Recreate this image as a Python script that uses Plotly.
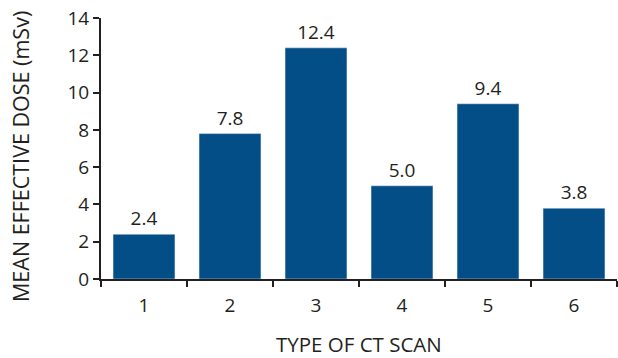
import plotly.graph_objects as go

categories = ["1", "2", "3", "4", "5", "6"]
doses = [2.4, 7.8, 12.4, 5.0, 9.4, 3.8]
dose_labels = ["2.4", "7.8", "12.4", "5.0", "9.4", "3.8"]
y_ticks = [0, 2, 4, 6, 8, 10, 12, 14]
x_title = "TYPE OF CT SCAN"
y_title = "MEAN EFFECTIVE DOSE (mSv)"

ink = "#231F20"
PW, PH = 516, 261
fig = go.Figure(go.Bar(
    x=categories, y=doses, text=dose_labels, textposition="outside",
    textfont=dict(size=19, color=ink), marker_color="#034E87",
    cliponaxis=False, hoverinfo="skip",
))
fig.update_layout(
    width=618, height=358,
    margin=dict(l=101, r=1, t=18, b=79, autoexpand=False),
    paper_bgcolor="white", plot_bgcolor="white",
    font=dict(family="Open Sans", size=19, color=ink),
    bargap=0.28, showlegend=False,
    annotations=[
        dict(text=x_title, xref="paper", yref="paper", x=0.5, y=-65 / PH,
             xanchor="center", yanchor="middle", showarrow=False,
             font=dict(size=20.5, color=ink)),
        dict(text=y_title, xref="paper", yref="paper", x=-81 / PW, y=122 / PH,
             xanchor="center", yanchor="middle", showarrow=False, textangle=-90,
             font=dict(size=21.5, color=ink)),
    ],
)
fig.update_xaxes(
    type="category", showline=True, linecolor=ink, linewidth=2, automargin=False,
    ticks="outside", tickson="boundaries", ticklen=6, tickwidth=2, tickcolor=ink,
    showgrid=False, tickfont=dict(size=19, color=ink), ticklabelstandoff=8,
)
fig.update_yaxes(
    range=[0, 14], tickvals=y_ticks, showline=True, linecolor=ink, linewidth=2,
    automargin=False, ticklabeloverflow="allow",
    ticks="outside", ticklen=6, tickwidth=2, tickcolor=ink, showgrid=False,
    zeroline=False, tickfont=dict(size=19, color=ink),
)
fig.write_html("out.html", config={"displayModeBar": False},
               post_script="document.body.style.margin='0px';")
